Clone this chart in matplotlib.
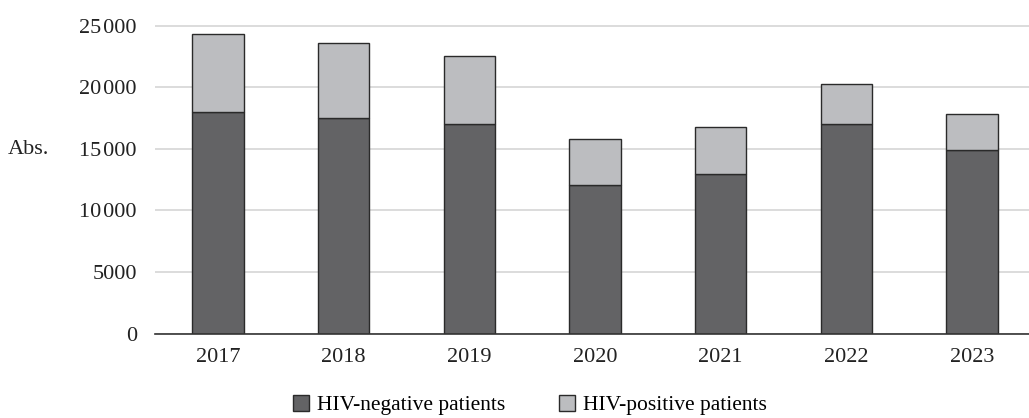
import matplotlib
matplotlib.use("Agg")
import matplotlib.pyplot as plt

plt.rcParams['font.family'] = ['Liberation Serif', 'DejaVu Serif']

years = ['2017', '2018', '2019', '2020', '2021', '2022', '2023']
hiv_negative = [18000, 17500, 17000, 12100, 13000, 17000, 14900]
hiv_positive = [6300, 6100, 5500, 3700, 3800, 3300, 2900]
yticks = [0, 5000, 10000, 15000, 20000, 25000]
ytick_labels = ['0', '5000', '10\u200a000', '15\u200a000', '20\u200a000', '25\u200a000']

dark = '#636365'
light = '#bcbdc0'
edge = '#2a2a2a'
fs = 16

fig = plt.figure(figsize=(10.29, 4.18), dpi=100)
ax = fig.add_axes([155 / 1029, (418 - 333.7) / 418, (1029 - 155) / 1029, (333.7 - 22) / 418])

x = range(len(years))
ax.bar(x, hiv_negative, width=0.41, color=dark, edgecolor=edge, linewidth=1,
       label='HIV-negative patients', zorder=3)
ax.bar(x, hiv_positive, width=0.41, bottom=hiv_negative, color=light, edgecolor=edge,
       linewidth=1, label='HIV-positive patients', zorder=3)

ax.set_xlim(-0.501, 6.453)
ax.set_ylim(0, 25300)
ax.set_xticks(list(x))
ax.set_xticklabels(years, fontsize=fs, color='#222222')
ax.set_yticks(yticks)
ax.set_yticklabels(ytick_labels, fontsize=fs, color='#222222')
ax.tick_params(axis='y', length=0, pad=13)
ax.tick_params(axis='x', length=0, pad=10)

ax.yaxis.grid(True, color='#d6d6d6', linewidth=1.2)
ax.set_axisbelow(True)
for s in ['left', 'right', 'top']:
    ax.spines[s].set_visible(False)
ax.spines['bottom'].set_color('#333333')
ax.spines['bottom'].set_linewidth(1.2)
ax.spines['bottom'].set_zorder(4)

fig.text(8 / 1029, (418 - 149) / 418, 'Abs.', fontsize=fs, va='center', ha='left', color='#222222')

fig.legend(loc='center', bbox_to_anchor=(0.515, 0.031), ncol=2, frameon=False,
           fontsize=15.5, handlelength=0.75, handleheight=0.75, handletextpad=0.35,
           columnspacing=2.5)

fig.savefig('out.png', dpi=100)
